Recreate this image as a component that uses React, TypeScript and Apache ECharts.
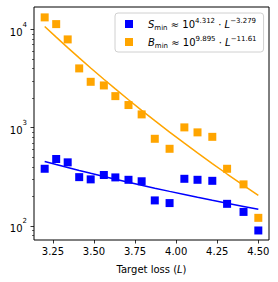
import React, { useEffect, useRef } from "react";
import * as echarts from "echarts";

const lossX = [3.2, 3.27, 3.34, 3.41, 3.48, 3.56, 3.63, 3.71, 3.79, 3.87, 3.96, 4.05, 4.13, 4.22, 4.31, 4.41, 4.5];
const sMin = [382, 480, 444, 314, 298, 330, 312, 295, 285, 182, 171, 302, 295, 288, 168, 139, 90];
const bMin = [13250, 11320, 7910, 4010, 2930, 2690, 2095, 1700, 1365, 771, 610, 1007, 896, 807, 382, 265, 121];
const xTicks = [3.25, 3.5, 3.75, 4.0, 4.25, 4.5];
const yMajor = [100, 1000, 10000];
const yMinor = [80, 90, 200, 300, 400, 500, 600, 700, 800, 900, 2000, 3000, 4000, 5000, 6000, 7000, 8000, 9000];
const sFit = { logA: 4.312, exp: -3.279 };
const bFit = { logA: 9.895, exp: -11.61 };

const FONT = "DejaVu Sans";
const BLUE = "#0000ff";
const ORANGE = "#ffa500";

export default function App() {
  const ref = useRef<HTMLDivElement>(null);
  useEffect(() => {
    const chart = echarts.init(ref.current!, null, { renderer: "svg" });
    const fitLine = (f: { logA: number; exp: number }) =>
      lossX.map((x) => [x, Math.pow(10, f.logA) * Math.pow(x, f.exp)]);
    const supStyle = { fontSize: 7, fontFamily: FONT, color: "#000", verticalAlign: "top", lineHeight: 7 };
    const legendRich = {
      g: { width: 10 },
      i: { fontStyle: "italic", fontSize: 10, fontFamily: FONT, color: "#000" },
      sub: { fontSize: 7, fontFamily: FONT, color: "#000", verticalAlign: "bottom", lineHeight: 9 },
      sup: supStyle,
    };
    const legendText: Record<string, string> = {
      S: "{g|}{i|S}{sub|min} ≈ 10{sup|" + "4.312" + "} · {i|L}{sup|−3.279}",
      B: "{g|}{i|B}{sub|min} ≈ 10{sup|" + "9.895" + "} · {i|L}{sup|−11.61}",
    };
    const yMin = 72;
    const yMax = 16900;
    chart.setOption({
      animation: false,
      grid: {
        left: 34,
        right: 9,
        top: 7,
        bottom: 42,
        show: true,
        borderColor: "#000",
        borderWidth: 1,
        backgroundColor: "transparent",
      },
      legend: {
        data: ["S", "B"],
        orient: "vertical",
        left: 115,
        top: 13,
        padding: [4, 7, 3, 10],
        itemGap: 4,
        itemWidth: 8,
        itemHeight: 8,
        backgroundColor: "#fff",
        borderColor: "#d0d0d0",
        borderWidth: 1,
        borderRadius: 3,
        formatter: (name: string) => legendText[name],
        textStyle: { fontSize: 10, fontFamily: FONT, color: "#000", lineHeight: 14, rich: legendRich },
      },
      xAxis: {
        type: "value",
        min: 3.135,
        max: 4.565,
        axisLine: { show: false },
        splitLine: { show: false },
        axisTick: { show: true, length: 3.5, customValues: xTicks, lineStyle: { color: "#000", width: 0.8 } },
        axisLabel: {
          customValues: xTicks,
          margin: 6,
          fontSize: 10,
          fontFamily: FONT,
          color: "#000",
          formatter: (v: number) => v.toFixed(2),
        },
        name: "Target loss ({i|L})",
        nameLocation: "middle",
        nameGap: 24,
        nameTextStyle: {
          fontSize: 10,
          fontFamily: FONT,
          color: "#000",
          rich: { i: { fontStyle: "italic", fontSize: 10, fontFamily: FONT, color: "#000" } },
        },
      },
      yAxis: [
        {
          type: "log",
          logBase: 10,
          min: yMin,
          max: yMax,
          position: "left",
          axisLine: { show: false },
          splitLine: { show: false },
          axisTick: { show: true, length: 3.5, customValues: yMajor, lineStyle: { color: "#000", width: 0.8 } },
          axisLabel: {
            customValues: yMajor,
            margin: 7,
            fontSize: 10,
            fontFamily: FONT,
            color: "#000",
            formatter: (v: number) => "{b|10}{s|" + Math.round(Math.log10(v)) + "}",
            rich: {
              b: { fontSize: 10, fontFamily: FONT, color: "#000", verticalAlign: "bottom", lineHeight: 16 },
              s: { fontSize: 7, fontFamily: FONT, color: "#000", verticalAlign: "top", lineHeight: 7 },
            },
          },
        },
        {
          type: "log",
          logBase: 10,
          min: yMin,
          max: yMax,
          position: "left",
          offset: 0,
          axisLine: { show: false },
          splitLine: { show: false },
          axisLabel: { show: false },
          axisTick: { show: true, length: 2, customValues: yMinor, lineStyle: { color: "#000", width: 0.6 } },
        },
      ],
      series: [
        {
          name: "S fit",
          type: "line",
          data: fitLine(sFit),
          showSymbol: false,
          symbol: "none",
          lineStyle: { color: BLUE, width: 1.5 },
          z: 2,
        },
        {
          name: "B fit",
          type: "line",
          data: fitLine(bFit),
          showSymbol: false,
          symbol: "none",
          lineStyle: { color: ORANGE, width: 1.5 },
          z: 2,
        },
        {
          name: "S",
          type: "scatter",
          symbol: "rect",
          symbolSize: 8,
          itemStyle: { color: BLUE, opacity: 1 },
          data: lossX.map((x, i) => [x, sMin[i]]),
          z: 3,
        },
        {
          name: "B",
          type: "scatter",
          symbol: "rect",
          symbolSize: 8,
          itemStyle: { color: ORANGE, opacity: 1 },
          data: lossX.map((x, i) => [x, bMin[i]]),
          z: 3,
        },
      ],
    });
    return () => chart.dispose();
  }, []);
  return <div ref={ref} style={{ position: "absolute", left: 0, top: 0, width: 278, height: 282 }} />;
}
